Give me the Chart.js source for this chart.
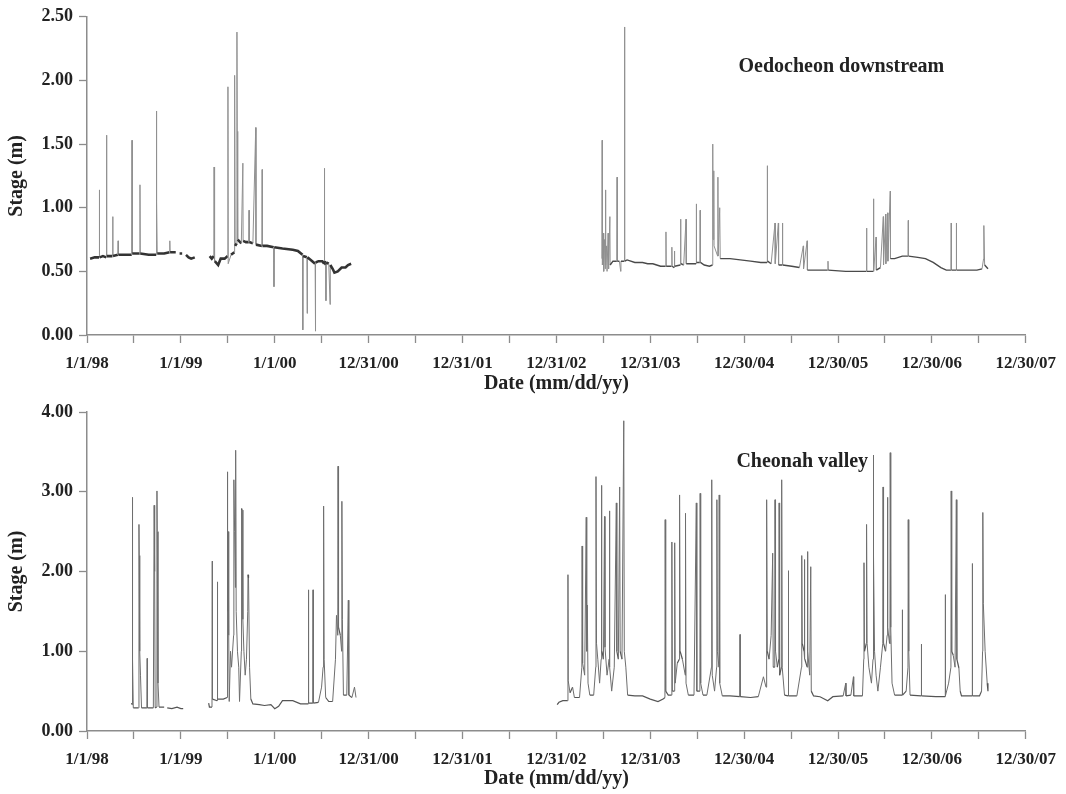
<!DOCTYPE html>
<html><head><meta charset="utf-8">
<script src="https://cdn.jsdelivr.net/npm/chart.js@4.4.1/dist/chart.umd.min.js"></script>
<style>
html,body{margin:0;padding:0;background:#fff;}
#wrap{position:relative;width:1066px;height:794px;}
.panel{position:absolute;left:0;width:1066px;}
</style></head><body>
<div id="wrap">
<div class="panel" style="top:0;height:395px"><canvas id="top" width="1066" height="395"></canvas></div>
<div class="panel" style="top:395px;height:399px"><canvas id="bot" width="1066" height="399"></canvas></div>
</div>
<script>
// x values are days since 1/1/98; axis ticks every 365 days (Excel-style labels)
const xTickLabels = ['1/1/98','1/1/99','1/1/00','12/31/00','12/31/01','12/31/02','12/31/03','12/30/04','12/30/05','12/30/06','12/30/07'];

// Oedocheon downstream, 1998-2000
const oedDaysA = [12,30,47,48,49,62,75,76,77,99,
 100,101,120,121,122,150,174,175,176,205,
 206,207,240,269,270,271,273,300,321,322,
 323,345,352,360,370,374,385,395,405,419,
 420,477,485,493,494,495,497,510,520,535,
 547,548,549,560,573,574,576,582,583,584,
 586,600,606,607,618,629,630,631,645,656,
 657,680,681,682,700,726,727,728,760,800,
 820,838,839,840,855,856,857,870,887,888,
 889,900,915,922,923,924,928,929,930,940,
 945,946,955,962,975,990,1005,1015,1027];
const oedStageA = [0.60,0.61,0.61,1.14,0.61,0.62,0.61,1.57,0.62,0.62,
 0.93,0.62,0.63,0.74,0.63,0.63,0.63,1.53,0.64,0.64,
 1.18,0.64,0.63,0.63,1.76,1.05,0.64,0.64,0.65,0.74,
 0.65,0.65,null,0.64,0.64,null,0.63,0.61,0.60,0.61,
 null,0.62,0.60,0.62,1.32,0.95,0.58,0.55,0.60,0.60,
 0.62,1.95,0.56,0.63,0.65,2.04,0.70,0.72,2.38,1.60,
 0.75,0.72,1.35,0.74,0.73,0.73,0.98,0.73,0.72,1.63,
 0.71,0.70,1.30,0.70,0.70,0.69,0.38,0.69,0.68,0.67,
 0.66,0.63,0.04,0.62,0.61,0.17,0.61,0.59,0.56,0.03,
 0.57,0.58,0.58,0.56,1.31,0.58,0.55,0.27,0.57,0.56,
 0.24,0.55,0.52,0.49,0.50,0.53,0.53,0.55,0.56];

// Oedocheon downstream, 2003-2007
const oedDaysB = [2002,2003,2004,2008,2009,2012,2015,2016,2017,2020,
 2022,2026,2028,2033,2034,2045,2060,2061,2062,2070,
 2075,2076,2089,2090,2091,2100,2130,2160,2180,2200,
 2215,2230,2250,2251,2252,2273,2274,2275,2283,2284,
 2285,2307,2308,2309,2320,2329,2330,2345,2368,2369,
 2370,2383,2384,2385,2400,2420,2432,2433,2434,2437,
 2438,2452,2453,2454,2460,2462,2500,2540,2580,2620,
 2644,2645,2646,2660,2675,2676,2688,2689,2703,2704,
 2705,2740,2770,2785,2786,2800,2801,2850,2880,2881,
 2882,2950,3000,3030,3031,3032,3057,3058,3059,3068,
 3069,3085,3096,3097,3105,3106,3113,3114,3123,3124,
 3140,3170,3192,3193,3194,3230,3260,3290,3320,3341,
 3359,3360,3361,3379,3380,3381,3420,3460,3480,3486,
 3487,3490,3503];
const oedStageB = [0.60,1.53,0.55,0.80,0.50,0.75,0.52,1.14,0.55,0.70,
 0.50,0.80,0.52,0.93,0.55,0.58,0.58,1.24,0.58,0.58,
 0.50,0.58,0.58,2.42,0.58,0.59,0.57,0.57,0.56,0.56,
 0.55,0.54,0.54,0.81,0.54,0.54,0.69,0.54,0.53,0.66,
 0.54,0.55,0.91,0.56,0.55,0.91,0.56,0.56,0.56,1.03,
 0.57,0.57,0.98,0.57,0.55,0.54,0.55,1.50,0.75,1.29,
 0.70,0.62,1.24,0.62,1.00,0.60,0.60,0.59,0.58,0.57,
 0.57,1.33,0.58,0.56,0.88,0.56,0.88,0.55,0.55,0.88,
 0.55,0.54,0.53,0.70,0.52,0.74,0.51,0.51,0.51,0.58,
 0.51,0.50,0.50,0.50,0.84,0.50,0.50,1.07,0.50,0.77,
 0.51,0.53,0.93,0.55,0.95,0.56,0.96,0.58,1.13,0.60,
 0.60,0.62,0.62,0.90,0.62,0.61,0.60,0.57,0.53,0.51,
 0.51,0.88,0.51,0.51,0.88,0.51,0.51,0.51,0.52,0.60,
 0.86,0.55,0.52];

// Cheonah valley, 1998
const cheDaysA = [173,175,176,177,178,180,200,202,203,205,
 208,212,233,234,235,258,261,263,265,271,
 272,273,276,280,300,305,312,330,350,365,
 374];
const cheStageA = [0.35,0.33,2.93,2.30,0.90,0.29,0.29,2.59,2.20,1.00,
 0.70,0.29,0.29,0.91,0.29,0.29,2.83,2.00,0.29,0.30,
 3.01,2.50,0.60,0.30,0.30,null,0.29,0.28,0.30,0.28,
 0.28];

// Cheonah valley, 1999-2000
const cheDaysB = [473,476,486,487,488,506,507,508,530,545,
 546,547,549,551,553,558,562,570,571,574,
 577,578,580,585,590,593,600,601,603,606,
 610,615,620,625,626,628,632,637,645,670,
 690,715,730,745,760,800,830,860,861,862,
 878,879,880,900,912,918,920,922,928,940,
 955,966,970,975,976,978,985,990,991,993,
 997,1010,1016,1018,1030,1040,1046];
const cheStageB = [0.35,0.30,0.30,2.13,0.40,0.38,1.87,0.40,0.40,0.42,
 3.25,1.50,2.50,1.20,0.37,1.00,0.80,1.20,3.15,2.50,
 1.80,3.52,1.50,1.00,0.80,0.37,1.00,2.79,2.77,1.40,
 1.00,0.70,0.90,1.50,1.96,1.92,0.80,0.40,0.34,0.33,
 0.32,0.33,0.28,0.31,0.38,0.38,0.34,0.34,1.77,0.35,
 0.35,1.77,0.35,0.36,0.55,0.80,2.82,0.90,0.42,0.37,
 0.37,0.90,1.45,1.20,3.32,1.30,1.20,1.00,2.88,1.40,
 0.45,0.45,1.64,0.45,0.42,0.55,0.42];

// Cheonah valley, 2003-2007
const cheDaysC = [1828,1835,1850,1869,1870,1871,1878,1888,1895,1915,
 1924,1925,1927,1935,1941,1943,1945,1948,1955,1970,
 1978,1979,1981,1986,1993,1999,2000,2002,2008,2012,
 2014,2022,2030,2031,2033,2040,2050,2058,2060,2066,
 2071,2073,2080,2087,2089,2095,2102,2130,2160,2190,
 2220,2240,2247,2248,2250,2260,2273,2274,2276,2284,
 2285,2287,2295,2303,2304,2306,2315,2326,2327,2329,
 2338,2360,2369,2371,2383,2384,2386,2395,2410,2428,
 2429,2431,2440,2448,2449,2451,2457,2458,2460,2470,
 2500,2538,2539,2540,2580,2610,2630,2640,2642,2643,
 2645,2652,2660,2666,2668,2674,2675,2677,2684,2690,
 2691,2693,2700,2701,2703,2712,2726,2727,2728,2760,
 2778,2779,2781,2788,2789,2791,2800,2801,2803,2810,
 2814,2816,2825,2850,2880,2900,2940,2950,2951,2970,
 2980,2981,3015,3020,3021,3023,3030,3031,3033,3040,
 3050,3056,3057,3059,3062,3068,3075,3085,3094,3095,
 3097,3105,3111,3112,3114,3120,3122,3123,3125,3130,
 3140,3169,3170,3171,3185,3192,3193,3195,3200,3243,
 3244,3245,3300,3336,3337,3338,3350,3359,3360,3362,
 3368,3375,3380,3382,3390,3395,3400,3441,3442,3443,
 3470,3478,3482,3483,3485,3492,3500,3503];
const cheStageC = [0.33,0.36,0.38,0.38,1.96,0.63,0.48,0.55,0.42,0.42,
 0.80,2.32,0.85,0.70,2.68,1.00,1.58,0.60,0.45,0.45,
 0.80,3.19,1.10,0.90,0.60,0.90,3.08,1.00,0.90,2.69,
 1.05,0.70,0.90,2.76,0.80,0.50,0.80,2.86,1.00,0.90,
 3.06,1.00,0.90,3.89,1.00,0.80,0.45,0.44,0.44,0.40,
 0.37,0.40,0.42,2.65,0.50,0.45,0.45,2.37,0.50,0.50,
 2.36,0.60,0.85,0.90,2.96,1.00,0.90,0.70,2.73,0.60,
 0.45,0.45,2.86,0.50,0.50,2.98,0.60,0.45,0.45,0.80,
 3.15,0.70,0.50,0.80,2.90,1.00,0.80,2.96,0.60,0.44,
 0.44,0.43,1.21,0.43,0.42,0.43,0.68,0.55,0.80,2.90,
 1.00,0.90,1.20,2.23,0.80,0.80,2.90,1.00,0.80,0.90,
 2.86,0.70,0.80,3.15,0.80,0.45,0.44,2.01,0.44,0.44,
 0.80,2.20,1.10,1.00,2.15,0.90,0.80,2.25,1.00,0.70,
 2.06,0.50,0.44,0.43,0.38,0.43,0.44,0.60,0.44,0.45,
 0.68,0.44,0.44,0.90,2.11,1.00,1.10,2.59,1.10,0.80,
 0.60,0.90,3.46,2.20,1.00,0.70,0.50,0.80,1.10,3.06,
 1.10,1.00,1.20,2.93,1.30,1.10,1.20,3.49,1.30,0.60,
 0.45,0.45,1.52,0.45,0.50,0.80,2.65,1.00,0.45,0.44,
 1.09,0.44,0.43,0.43,1.71,0.44,0.60,0.80,3.01,1.00,
 0.95,0.80,2.90,0.90,0.79,0.50,0.44,0.44,2.10,0.44,
 0.44,0.50,1.00,2.74,1.60,1.00,0.60,0.50];

const FONT = '"Liberation Serif", "Times New Roman", serif';
const AXIS = '#8c8c8c';

function toPoints(parts) {
  const pts = [];
  parts.forEach((p, k) => {
    if (k > 0) pts.push({x: p[0][0] - 1, y: null});
    p[0].forEach((d, i) => pts.push({x: d, y: p[1][i]}));
  });
  return pts;
}

const labelPlugin = {
  id: 'panelLabel',
  afterDatasetsDraw(chart, args, opts) {
    const {ctx, scales: {x, y}} = chart;
    ctx.save();
    ctx.font = 'bold 20px ' + FONT;
    ctx.fillStyle = '#222';
    ctx.textBaseline = 'middle';
    ctx.textAlign = 'left';
    ctx.fillText(opts.text, x.getPixelForValue(opts.day), y.getPixelForValue(opts.value));
    ctx.restore();
  }
};

function makeChart(id, points, cfg) {
  return new Chart(document.getElementById(id), {
    type: 'line',
    data: {datasets: [{
      data: points,
      parsing: false,
      spanGaps: false,
      pointRadius: 0,
      tension: 0,
      borderColor: cfg.baseColor,
      borderWidth: 1,
      segment: {
        borderColor: c => Math.abs(c.p1.parsed.y - c.p0.parsed.y) > cfg.thr ? cfg.spikeColor : cfg.baseColorFn(c.p0.parsed.x),
        borderWidth: c => Math.abs(c.p1.parsed.y - c.p0.parsed.y) > cfg.thr ? cfg.spikeWidth : cfg.baseWidthFn(c.p0.parsed.x)
      }
    }]},
    plugins: [labelPlugin],
    options: {
      responsive: false,
      animation: false,
      devicePixelRatio: 1,
      layout: {padding: {top: cfg.padTop, right: 38, left: 0, bottom: 0}},
      plugins: {
        legend: {display: false},
        tooltip: {enabled: false},
        panelLabel: {text: cfg.label, day: cfg.labelDay, value: cfg.labelValue}
      },
      scales: {
        x: {
          type: 'linear', min: 0, max: 3650,
          afterFit: s => { s.height = cfg.xHeight; },
          ticks: {
            stepSize: 182.5, autoSkip: false, maxRotation: 0, minRotation: 0, padding: 10,
            color: '#222', font: {family: FONT, size: 17, weight: 'bold'},
            callback: (v, i) => i % 2 === 0 ? xTickLabels[i / 2] : ''
          },
          grid: {drawOnChartArea: false, drawTicks: true, tickLength: 8, tickColor: AXIS, tickWidth: 1.3},
          border: {display: true, color: AXIS, width: 1.5},
          title: {display: true, text: 'Date (mm/dd/yy)', color: '#222',
            font: {family: FONT, size: 20, weight: 'bold'}, padding: {top: 0, bottom: cfg.titlePad}}
        },
        y: {
          min: 0, max: cfg.yMax,
          afterFit: s => { s.width = 87; },
          ticks: {stepSize: cfg.yStep, padding: 6, color: '#222',
            font: {family: FONT, size: 18, weight: 'bold'}, callback: v => v.toFixed(2)},
          grid: {drawOnChartArea: false, drawTicks: true, tickLength: 8, tickColor: AXIS, tickWidth: 1.3},
          border: {display: true, color: AXIS, width: 1.5},
          title: {display: true, text: 'Stage (m)', color: '#222',
            font: {family: FONT, size: 20, weight: 'bold'}, padding: {top: 5, bottom: 0}}
        }
      }
    }
  });
}

makeChart('top', toPoints([[oedDaysA, oedStageA], [oedDaysB, oedStageB]]), {
  yMax: 2.5, yStep: 0.5, padTop: 16, xHeight: 60, titlePad: -1,
  thr: 0.06, spikeColor: '#909090', spikeWidth: 1,
  baseColor: '#333',
  baseColorFn: x => x < 1500 ? '#333' : '#4a4a4a',
  baseWidthFn: x => x < 1500 ? 2.6 : 1.4,
  label: 'Oedocheon downstream', labelDay: 2533, labelValue: 2.11
});

makeChart('bot', toPoints([[cheDaysA, cheStageA], [cheDaysB, cheStageB], [cheDaysC, cheStageC]]), {
  yMax: 4, yStep: 1, padTop: 17, xHeight: 63, titlePad: 3,
  thr: 0.12, spikeColor: '#6e6e6e', spikeWidth: 1,
  baseColor: '#444',
  baseColorFn: x => '#555',
  baseWidthFn: x => 1.2,
  label: 'Cheonah valley', labelDay: 2525, labelValue: 3.37
});
</script>
</body></html>
